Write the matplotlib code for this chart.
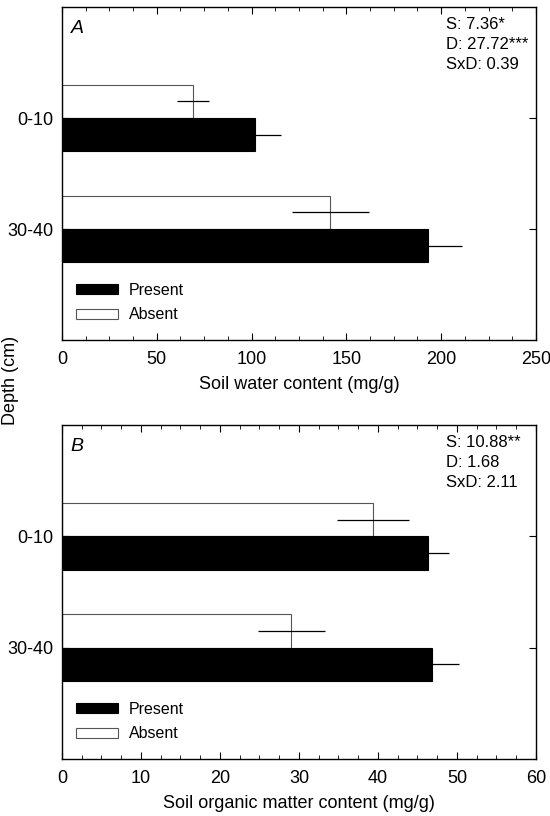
import matplotlib
matplotlib.use("Agg")
import matplotlib.pyplot as plt
from matplotlib.ticker import MultipleLocator
from matplotlib.patches import Patch

plt.rcParams['font.family'] = ['Liberation Sans', 'DejaVu Sans']

depths = ["0-10", "30-40"]
# Panel A: soil water content (mg/g)
water_present = [101.7, 193.1]
water_present_err = [13.6, 18.0]
water_absent = [69.1, 141.4]
water_absent_err = [8.2, 20.3]
stats_A = ["S: 7.36*", "D: 27.72***", "SxD: 0.39"]
# Panel B: soil organic matter content (mg/g)
om_present = [46.3, 46.9]
om_present_err = [2.7, 3.3]
om_absent = [39.4, 29.0]
om_absent_err = [4.55, 4.25]
stats_B = ["S: 10.88**", "D: 1.68", "SxD: 2.11"]

fig = plt.figure(figsize=(5.5, 8.16), dpi=100)
axA = fig.add_axes([0.1127, 0.5833, 0.8618, 0.408])
axB = fig.add_axes([0.1127, 0.0699, 0.8618, 0.4093])

def panel(ax, present, perr, absent, aerr, xmax, major, minor, stats, letter, xlabel):
    ypos = list(range(len(depths)))
    h = 0.3
    yp = [y + h / 2 for y in ypos]
    ya = [y - h / 2 for y in ypos]
    ax.barh(ya, absent, height=h, color='white', edgecolor='#555555', linewidth=0.8)
    ax.barh(yp, present, height=h, color='black', edgecolor='black', linewidth=0.8)
    ax.errorbar(absent, ya, xerr=aerr, fmt='none', ecolor='black', elinewidth=0.9, capsize=0)
    ax.errorbar(present, yp, xerr=[[0] * len(perr), perr], fmt='none', ecolor='black',
                elinewidth=0.9, capsize=0)
    ax.set_xlim(0, xmax)
    ax.set_ylim(2, -1)
    ax.set_yticks(ypos)
    ax.set_yticklabels(depths, fontsize=13)
    ax.xaxis.set_major_locator(MultipleLocator(major))
    ax.xaxis.set_minor_locator(MultipleLocator(minor))
    ax.tick_params(axis='x', which='major', direction='in', length=5, top=True, labelsize=13, pad=8)
    ax.tick_params(axis='x', which='minor', direction='in', length=3, top=True)
    ax.tick_params(axis='y', which='major', direction='in', length=5, right=True, labelsize=13, pad=6)
    for s in ax.spines.values():
        s.set_linewidth(1.0)
    ax.set_xlabel(xlabel, fontsize=13, labelpad=6)
    ax.text(0.81, 0.97, "\n".join(stats), transform=ax.transAxes, va='top', ha='left',
            fontsize=12, linespacing=1.4)
    ax.text(0.018, 0.935, letter, transform=ax.transAxes, fontsize=14, style='italic',
            va='center', ha='left')
    handles = [Patch(facecolor='black', edgecolor='black', linewidth=0.8, label='Present'),
               Patch(facecolor='white', edgecolor='#555555', linewidth=0.8, label='Absent')]
    ax.legend(handles=handles, loc='lower left', bbox_to_anchor=(0.0, 0.01), frameon=False,
              fontsize=11.5, handlelength=2.6, handleheight=0.6, labelspacing=0.6,
              handletextpad=0.7)

panel(axA, water_present, water_present_err, water_absent, water_absent_err,
      250, 50, 12.5, stats_A, "A", "Soil water content (mg/g)")
panel(axB, om_present, om_present_err, om_absent, om_absent_err,
      60, 10, 2.5, stats_B, "B", "Soil organic matter content (mg/g)")

fig.text(0.02, 0.534, "Depth (cm)", rotation=90, va='center', ha='center', fontsize=13)

fig.savefig("out.png", dpi=100)
